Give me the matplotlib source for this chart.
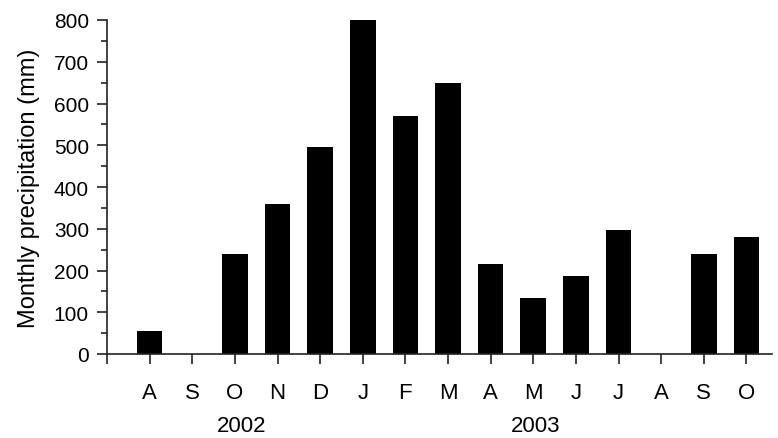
import matplotlib
matplotlib.use("Agg")
import matplotlib.pyplot as plt
import matplotlib.transforms as mtransforms
import numpy as np

plt.rcParams['font.family'] = ['Liberation Sans', 'DejaVu Sans']

months = ['A', 'S', 'O', 'N', 'D', 'J', 'F', 'M', 'A', 'M', 'J', 'J', 'A', 'S', 'O']
precip = [55, 0, 240, 360, 497, 800, 570, 648, 215, 133, 187, 297, 0, 240, 280]
years = ['2002', '2003']
year_pos = [2.15, 9.05]

fig = plt.figure(figsize=(7.78, 4.39), dpi=100)
ax = fig.add_axes([107 / 778, 84 / 439, 665 / 778, 334 / 439])

x = np.arange(len(months))
ax.bar(x, precip, width=0.6, color='black')

ax.set_xlim(-1, len(months) - 0.4)
ax.set_ylim(0, 800)
ax.set_yticks(np.arange(0, 801, 100))
ax.set_yticks(np.arange(50, 800, 100), minor=True)
ax.set_xticks(np.concatenate([[-1], x]))
ax.set_xticklabels([''] + months)

for s in ['top', 'right']:
    ax.spines[s].set_visible(False)
for s in ['left', 'bottom']:
    ax.spines[s].set_color('#222222')
    ax.spines[s].set_linewidth(1.2)

ax.tick_params(axis='y', which='major', length=7, width=1.2, color='#222222',
               labelsize=15, pad=6)
ax.tick_params(axis='y', which='minor', length=4, width=1.2, color='#222222')
ax.tick_params(axis='x', length=7, width=1.2, color='#222222', labelsize=16, pad=13)

ax.set_ylabel('Monthly precipitation (mm)', fontsize=17, labelpad=10)

trans = mtransforms.blended_transform_factory(ax.transData, fig.transFigure)
for yr, xp in zip(years, year_pos):
    ax.text(xp, 12 / 439, yr, transform=trans, ha='center', va='center', fontsize=16)

fig.savefig('out.png', dpi=100)
